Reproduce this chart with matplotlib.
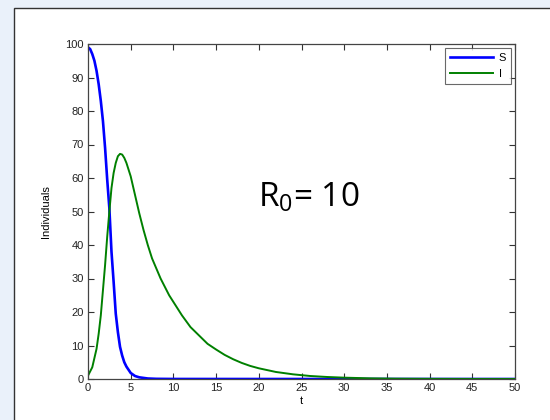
import matplotlib
matplotlib.use("Agg")
import matplotlib.pyplot as plt
from matplotlib.patches import Rectangle

# values
t_s = [0, 0.25, 0.5, 0.75, 1, 1.25, 1.5, 1.75, 2, 2.25, 2.5, 2.75, 3, 3.25, 3.5, 3.75,
       4, 4.25, 4.5, 5, 5.5, 6, 7, 8, 10, 20, 30, 40, 50]
s_vals = [99, 98.5, 97, 95, 92, 88, 83, 77, 69, 59.5, 51, 38, 29, 19.5, 14, 9.6,
          7, 5, 3.7, 1.8, 0.9, 0.5, 0.15, 0.05, 0.01, 0, 0, 0, 0]

t_i = [0, 0.5, 1, 1.25, 1.5, 1.75, 2, 2.25, 2.5, 2.75, 3, 3.25, 3.5, 3.75, 4, 4.25, 4.5, 5, 5.5,
       6, 6.5, 7, 7.5, 8, 8.5, 9, 9.5, 10, 11, 12, 13, 14, 15, 16, 17, 18, 19, 20,
       22, 24, 26, 28, 30, 33, 36, 40, 45, 50]
i_vals = [1, 3.5, 9, 13.5, 19, 26.5, 34, 42.5, 50, 57, 61.5, 64.5, 66.5, 67.2, 67, 66, 64.5, 60.5, 55,
          49.5, 44.5, 40, 36, 33, 30, 27.5, 25, 23, 19, 15.5, 13, 10.5, 8.8, 7.2, 5.9, 4.8, 3.9, 3.2,
          2.1, 1.4, 0.9, 0.6, 0.4, 0.2, 0.1, 0.05, 0.02, 0.01]

x_ticks = list(range(0, 51, 5))
y_ticks = list(range(0, 101, 10))

plt.rcParams["font.family"] = ["Liberation Sans", "DejaVu Sans"]
plt.rcParams["mathtext.fontset"] = "custom"
plt.rcParams["mathtext.rm"] = "Open Sans"
plt.rcParams["mathtext.it"] = "Open Sans"

fig = plt.figure(figsize=(5.5, 4.2), dpi=100, facecolor="#eaf1fa")
# white figure panel with dark border, behind the axes
panel = Rectangle((14 / 550, -0.1), 1.2, 1.1 - 8 / 420,
                  transform=fig.transFigure, facecolor="white",
                  edgecolor="#333333", linewidth=1.0, zorder=-10)
fig.patches.append(panel)

ax = fig.add_axes([88 / 550, 1 - 379 / 420, 427 / 550, 335 / 420])

ax.plot(t_s, s_vals, color="#0000ff", linewidth=1.9, label="S")
ax.plot(t_i, i_vals, color="#008000", linewidth=1.4, label="I")

ax.set_xlim(0, 50)
ax.set_ylim(0, 100)
ax.set_xticks(x_ticks)
ax.set_yticks(y_ticks)
ax.tick_params(direction="in", top=True, right=True, length=4, width=0.8,
               labelsize=8, colors="#333333", pad=3)
ax.tick_params(labelcolor="#222222")
for sp in ax.spines.values():
    sp.set_color("#444444")
    sp.set_linewidth(0.9)

ax.set_xlabel("t", fontsize=8, labelpad=2)
ax.set_ylabel("Individuals", fontsize=8, labelpad=10)

leg = ax.legend(loc="upper right", fontsize=8, frameon=True, fancybox=False,
                handlelength=3.9, borderpad=0.45, labelspacing=0.55,
                handletextpad=0.5, borderaxespad=0.35)
leg.get_frame().set_edgecolor("#444444")
leg.get_frame().set_linewidth(0.8)

ax.text(19.9, 51.6, r"R$_0$= 10", fontsize=24, family="Open Sans",
        ha="left", va="baseline")

fig.savefig("out.png", dpi=100, facecolor=fig.get_facecolor())
